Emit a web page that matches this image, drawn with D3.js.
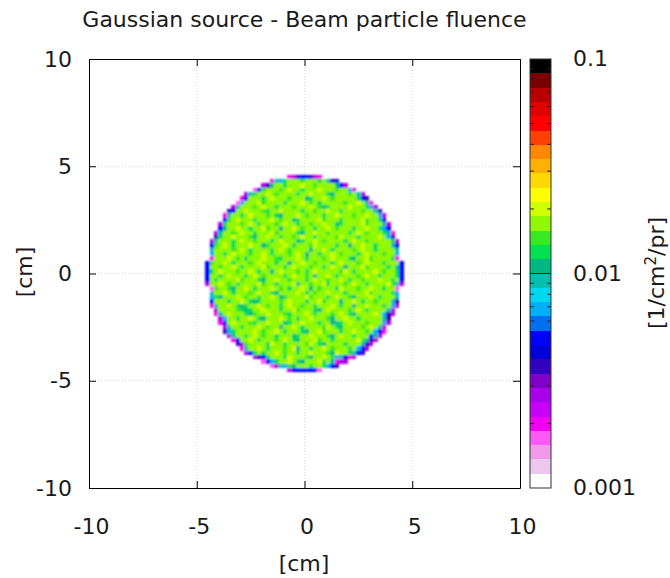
<!DOCTYPE html>
<html>
<head>
<meta charset="utf-8">
<script src="https://cdnjs.cloudflare.com/ajax/libs/d3/7.8.5/d3.min.js"></script>
<style>
  html, body { margin: 0; background: #fff; }
  svg text { font-family: "DejaVu Sans", sans-serif; fill: #1a1a1a; }
</style>
</head>
<body>
<svg id="chart" width="670" height="578"></svg>
<script>
// tick values
const xTicks = [-10, -5, 0, 5, 10];
const yTicks = [-10, -5, 0, 5, 10];
const barLabels = [0.001, 0.01, 0.1];
const barMinor = [0.002, 0.003, 0.004, 0.005, 0.006, 0.007, 0.008, 0.009,
                  0.02, 0.03, 0.04, 0.05, 0.06, 0.07, 0.08, 0.09];

// palette, from bottom (0.001) to top (0.1) of the colour bar
const bandColors = [
  "#ffffff", "#ecc8f0", "#f09ae8", "#ff58f8", "#f000f0", "#c800f8", "#a800e8", "#8000c8",
  "#3400c0", "#0000d8", "#0000ff", "#0070f0", "#00b0f8", "#00d8f0", "#00c0b0",
  "#00b880", "#00e050", "#38e820", "#90f800", "#d0ff00", "#ffff00", "#ffd800", "#ffb000",
  "#ff8800", "#ff4000", "#ff0000", "#e00000", "#b80000", "#780000", "#000000"
];

// fluence [1/cm2/pr] behind each letter used in the map rows
const fluenceCodes = {
  k: 0.0017, m: 0.0020, p: 0.0027, i: 0.0037, b: 0.0050, a: 0.0068, c: 0.0093,
  t: 0.0108, G: 0.0126, g: 0.0147, l: 0.0171, y: 0.0171, Y: 0.0200
};

// map rows from y = +4.5 cm to y = -4.5 cm, centred on x = 0, 0.2 cm bins
const fluenceRows = [
  "mpibbipm",
  "mcaGlyyglylGlcib",
  "pitlyGylyYylgylyltbp",
  "kbglyyglYylGylyYlylgylam",
  "pcGlyYlgylyyGlyYlylGtylyglcp",
  "mblylGyYlylgyyltGlyYyglylyyGbi",
  "kaylyYglylyGylyYlglGylyylglyYlcm",
  "pclylgyYylGlyyglylYlgtGlylyYlylGap",
  "ibylYlylgGlyYylylGlyglyYylGlylyglyci",
  "mclyGlYylyglGtylyYlgylyGylYlylgylYlyap",
  "bgyYlylGylyYlgyltGlyylYglylGyylyYglyGb",
  "pGlylgyYlGlyyglYylGylgylYyltGlylyYglylcp",
  "btylYlyGlyYglytlyYlgylGlyYyglylGlyYlyGab",
  "pcylgyYlyGlylYglyylGtlyYylglylyGyYlglylGcm",
  "iGlyYlylgtlyYylGlyglYlyGlyylgYlylGlylyYlai",
  "pclylGyYlyglylGyYlyltGlyYlglylyGlYylgylylyGp",
  "bgyYlGlylYlytglylYyGlylgYlylyGlytlyYylGlylcb",
  "clylyglYyGlylyGlYlgylyltylYlGlylyglYlyGylylc",
  "aylGyYlylglyYlGylyglYltlyGlyYlglylGyYlylgyla",
  "mlylYlgyGlylYylgGlyyYlGlylgyYlylGtlyYglylyGm",
  "bglyYlGlylgyYlylGlytlyYlyglylGyYlylglYlylGlylb",
  "bylgylYlGylylYglylGyYlylglyGlYlytlylYgylylGycb",
  "bGlYlylglyYlGlytyYlylglGyYlylylgYlGlylyYlglyGb",
  "blyGlYlylGyYlglyylGlYlygltlyYlGlylyglYylGlylGb",
  "blGylylYglylGtlyYlyglylGlYylglyYlGlyglylYlyGlb",
  "pylYlgyGlylyYglyGlylYtlyglyYGlylglYylGlylyYgcp",
  "kgylgtylYlGlylYyglGlyYltyglylGYlylglyYlyGlyk",
  "cylYlGlylglYylGtlyylYlGlglyYlylGlylyYgylylGa",
  "aGtylyYlgylGlyYltGlylyYglylGlYylgtylyYlGlylc",
  "blylGylYlGtGlyylglYlylGylYglyltylYlGlyglylci",
  "mcylYlGtGlyYlgylGlYylglyGlylYlGyltlyYlylGlap",
  "pylylgGtGylYlylGlyYglylGtlYylylgyYlGlylycp",
  "mcyYlylGtglyYlylgGlylYlGlylgyYlGtlylyYlaip",
  "paylGlyYlGtlylYyglGlyYlylgtlyYlyGlylylci",
  "mblYlylgGlyYlyltGylYlylGlytcGyYlylgylyap",
  "pclyGlylYlgyltlyYlGlylygYlGtlyylglYlcp",
  "iaGylylYlglyYlGlylGtlyYglylGlyYlyglabm",
  "pcylGyYlgylGlyltGlyYlylgtlYlyGlylbcp",
  "mblyYlGlylgyYlGtlylYgylGlylylYgcip",
  "ipgylylGYlyGlylygYlGtlylyGlylcip",
  "mcylYlGlylgyYtlyGylYlglylGyabp",
  "pbGyGlyYlgylGlyYlylgtYlyGcbi",
  "pibGlylGYlylgtlyYlgacbmp",
  "kbaGylYlGtlylYGlcmpp",
  "kpcaGtlylGlyGabi",
  "pbbbbbbk"
];
const binWidth = 0.2;
const topRowY = 4.6;

const svg = d3.select("#chart");

// the reference is a soft raster, so the map gets a light blur
svg.append("defs").append("filter").attr("id", "soft")
  .attr("x", "-5%").attr("y", "-5%").attr("width", "110%").attr("height", "110%")
  .append("feGaussianBlur").attr("stdDeviation", 0.85);

const x = d3.scaleLinear().domain([-10, 10]).range([89, 520]);
const y = d3.scaleLinear().domain([-10, 10]).range([488, 59]);
const barY = d3.scaleLog().domain([0.001, 0.1]).range([488, 59]);

// threshold scale with one band per palette colour, evenly spaced in log
const barEdges = bandColors.slice(1).map((c, i) => 0.001 * Math.pow(100, (i + 1) / bandColors.length));
const color = d3.scaleThreshold().domain(barEdges).range(bandColors);

//dotted grid under the map
svg.append("g").selectAll("line").data(xTicks.slice(1, -1)).join("line")
  .attr("x1", d => x(d)).attr("x2", d => x(d))
  .attr("y1", y(-10)).attr("y2", y(10))
  .attr("stroke", "#d8d8d8").attr("stroke-dasharray", "1,2");
svg.append("g").selectAll("line").data(yTicks.slice(1, -1)).join("line")
  .attr("y1", d => y(d)).attr("y2", d => y(d))
  .attr("x1", x(-10)).attr("x2", x(10))
  .attr("stroke", "#d8d8d8").attr("stroke-dasharray", "1,2");

// fluence map
const cells = fluenceRows.flatMap((row, r) => row.split("").map((code, i) => ({
  x0: (i - Math.floor(row.length / 2)) * binWidth,
  y0: topRowY - r * binWidth,
  value: fluenceCodes[code]
})));

svg.append("g").attr("filter", "url(#soft)")
  .selectAll("rect").data(cells).join("rect")
  .attr("shape-rendering", "crispEdges")
  .attr("x", d => x(d.x0))
  .attr("y", d => y(d.y0))
  .attr("width", x(binWidth) - x(0))
  .attr("height", y(0) - y(binWidth))
  .attr("fill", d => color(d.value));

// axes, ticks point inwards on all four sides
const styleAxis = (g) => {
  g.selectAll("text").attr("font-size", 22);
  g.selectAll("line").attr("stroke", "#000");
  g.select(".domain").attr("stroke", "#000");
};
svg.append("g").attr("transform", `translate(0,${y(-10)})`)
  .call(d3.axisBottom(x).tickValues(xTicks).tickFormat(d => d).tickSizeInner(-7).tickSizeOuter(0).tickPadding(30))
  .call(styleAxis).call(g => g.selectAll("text").attr("dx", 2));
svg.append("g").attr("transform", `translate(${x(-10)},0)`)
  .call(d3.axisLeft(y).tickValues(yTicks).tickFormat(d => d).tickSizeInner(-7).tickSizeOuter(0).tickPadding(17))
  .call(styleAxis);
svg.append("g").attr("transform", `translate(0,${y(10)})`)
  .call(d3.axisTop(x).tickValues(xTicks).tickFormat("").tickSizeInner(-7).tickSizeOuter(0))
  .call(styleAxis);
svg.append("g").attr("transform", `translate(${x(10)},0)`)
  .call(d3.axisRight(y).tickValues(yTicks).tickFormat("").tickSizeInner(-7).tickSizeOuter(0))
  .call(styleAxis);

// colour bar
const barLeft = 530, barRight = 551;
svg.append("g").attr("shape-rendering", "crispEdges")
  .selectAll("rect").data(bandColors).join("rect")
  .attr("x", barLeft)
  .attr("width", barRight - barLeft)
  .attr("y", (c, i) => barY(i < barEdges.length ? barEdges[i] : 0.1))
  .attr("height", (c, i) => barY(i > 0 ? barEdges[i - 1] : 0.001) - barY(i < barEdges.length ? barEdges[i] : 0.1))
  .attr("fill", c => c);

svg.append("g").selectAll("line").data(barMinor).join("line")
  .attr("x1", barLeft).attr("x2", barLeft + 4)
  .attr("y1", d => barY(d)).attr("y2", d => barY(d)).attr("stroke", "#222");
svg.append("g").selectAll("line").data(barMinor).join("line")
  .attr("x1", barRight - 4).attr("x2", barRight)
  .attr("y1", d => barY(d)).attr("y2", d => barY(d)).attr("stroke", "#222");
svg.append("line").attr("x1", barLeft).attr("x2", barRight)
  .attr("y1", barY(0.01)).attr("y2", barY(0.01)).attr("stroke", "#222");
svg.append("rect").attr("x", barLeft).attr("y", barY(0.1))
  .attr("width", barRight - barLeft).attr("height", barY(0.001) - barY(0.1))
  .attr("fill", "none").attr("stroke", "#333");

svg.append("g").selectAll("text").data(barLabels).join("text")
  .attr("x", 573).attr("y", d => barY(d)).attr("dy", "0.32em")
  .attr("font-size", 22).text(d => d);

// titles
svg.append("text").attr("x", 304.5).attr("y", 27).attr("text-anchor", "middle")
  .attr("font-size", 22).text("Gaussian source - Beam particle fluence");
svg.append("text").attr("x", 304).attr("y", 571).attr("text-anchor", "middle")
  .attr("font-size", 22).text("[cm]");
svg.append("text").attr("transform", "translate(32,272) rotate(-90)").attr("text-anchor", "middle")
  .attr("font-size", 22).text("[cm]");

const barTitle = svg.append("text").attr("transform", "translate(664,273) rotate(-90)")
  .attr("text-anchor", "middle").attr("font-size", 22);
barTitle.append("tspan").text("[1/cm");
barTitle.append("tspan").attr("font-size", 15).attr("dy", -8).text("2");
barTitle.append("tspan").attr("dy", 8).text("/pr]");
</script>
</body>
</html>
